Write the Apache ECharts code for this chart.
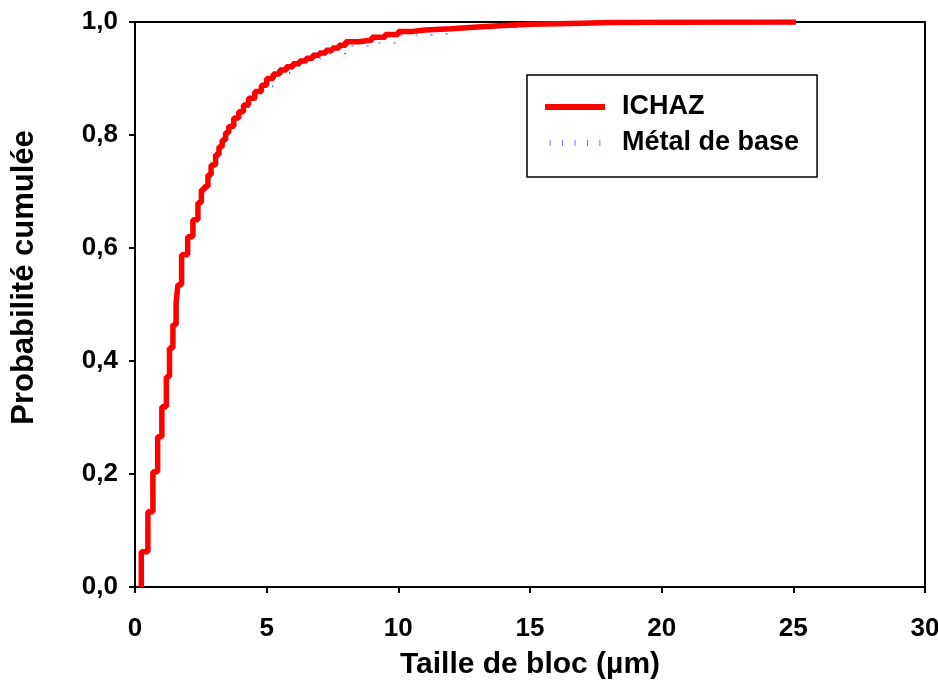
<!DOCTYPE html>
<html><head><meta charset="utf-8">
<script src="https://cdn.jsdelivr.net/npm/echarts@6/dist/echarts.min.js"></script>
<style>html,body{margin:0;padding:0;background:#fff}#c{width:938px;height:684px}</style>
</head><body><div id="c"></div>
<script>
// ICHAZ step curve: [taille (µm), probabilité cumulée] at each riser
var ichazX = [0.24,0.24,0.49,0.68,0.86,1.02,1.19,1.31,1.44,1.56,1.63,1.77,2.0,2.2,2.39,2.52,2.64,2.77,2.89,3.06,3.19,3.31,3.44,3.56,3.75,3.94,4.12,4.31,4.55,4.8,5.0,5.25,5.5,5.75,6.0,6.25,6.5,6.75,7.0,7.25,7.5,7.75,8.0,8.5,9.0,9.5,10.0,10.5,11.0,12.0,13.0,14.0,15.0,16.0,17.0,18.0,20.0,25.1];
var ichazY = [0.0,0.0625,0.133,0.204,0.266,0.319,0.372,0.423,0.464,0.503,0.535,0.588,0.62,0.65,0.68,0.703,0.709,0.729,0.747,0.765,0.779,0.791,0.804,0.815,0.830,0.841,0.853,0.865,0.877,0.888,0.900,0.908,0.915,0.921,0.926,0.931,0.936,0.941,0.945,0.950,0.954,0.959,0.965,0.968,0.973,0.978,0.983,0.986,0.988,0.991,0.994,0.996,0.997,0.998,0.999,0.9995,1.0,1.0];
// Métal de base
var baseX = [0.22,0.22,0.47,0.66,0.85,1.01,1.18,1.30,1.43,1.55,1.62,1.76,1.99,2.19,2.38,2.51,2.63,2.76,2.88,3.07,3.20,3.33,3.46,3.58,3.78,3.97,4.16,4.35,4.60,4.85,5.23,5.87,6.50,7.14,8.04,9.05,10.13,11.2,12.27,13.35,14.5,15.58,17.5,20.0,24.6];
var baseY = [0.0,0.06,0.13,0.20,0.262,0.315,0.368,0.419,0.46,0.499,0.531,0.584,0.616,0.646,0.676,0.699,0.705,0.725,0.743,0.761,0.775,0.787,0.800,0.811,0.826,0.837,0.849,0.861,0.873,0.884,0.908,0.925,0.935,0.944,0.9575,0.9628,0.977,0.980,0.987,0.9906,0.9947,0.9976,0.999,1.0,1.0];
var xTicks = [0,5,10,15,20,25,30];
var yTicks = ['0,0','0,2','0,4','0,6','0,8','1,0'];
var seriesNames = ['ICHAZ','Métal de base'];

function pairs(xs, ys){ return xs.map(function(x,i){ return [x, ys[i]]; }); }
var FONT = '"Liberation Sans", Arial, sans-serif';
var chart = echarts.init(document.getElementById('c'), null, {renderer:'canvas'});
chart.setOption({
  animation:false,
  backgroundColor:'#fff',
  grid:{left:135,right:13,top:22,bottom:97,show:true,borderColor:'#000',borderWidth:2,backgroundColor:'transparent',outerBoundsMode:'none',containLabel:false},
  legend:{
    orient:'vertical', left:527, top:75,
    data:[
      {name:seriesNames[0], icon:'rect', itemStyle:{color:'#ff0000'}},
      {name:seriesNames[1], icon:'path://M0,0h1v7h-1zM14.5,0h1v7h-1zM29,0h1v7h-1zM43.5,0h1v7h-1zM58,0h1v7h-1z', itemStyle:{color:'#5a5aff'}}
    ],
    itemWidth:60, itemHeight:6, itemGap:6,
    padding:[17,18,19,18],
    borderColor:'#000', borderWidth:1.5,
    textStyle:{fontFamily:FONT, fontWeight:'bold', fontSize:27, color:'#000', padding:[0,0,0,12], lineHeight:30}
  },
  xAxis:{
    type:'value', min:xTicks[0], max:xTicks[xTicks.length-1], interval:5,
    name:'Taille de bloc (µm)', nameLocation:'middle', nameGap:63,
    nameTextStyle:{fontFamily:FONT, fontWeight:'bold', fontSize:30, color:'#000'},
    axisLine:{lineStyle:{color:'#000',width:2}},
    axisTick:{inside:false,length:6,lineStyle:{color:'#000',width:2}},
    axisLabel:{fontFamily:FONT, fontWeight:'bold', fontSize:26, color:'#000', margin:29},
    splitLine:{show:false}
  },
  yAxis:{
    type:'value', min:0, max:1, interval:0.2,
    name:'Probabilité cumulée', nameLocation:'middle', nameGap:95,
    nameTextStyle:{fontFamily:FONT, fontWeight:'bold', fontSize:31, color:'#000', padding:[0,0,0,54]},
    axisLine:{lineStyle:{color:'#000',width:2}},
    axisTick:{inside:false,length:6,lineStyle:{color:'#000',width:2}},
    axisLabel:{fontFamily:FONT, fontWeight:'bold', fontSize:26, color:'#000', margin:17,
      formatter:function(v){ return yTicks[Math.round(v/0.2)]; }},
    splitLine:{show:false}
  },
  series:[
    {name:seriesNames[1], type:'line', step:'end', data:pairs(baseX, baseY), showSymbol:false, symbol:'none', z:2,
      lineStyle:{color:'#3030ff', width:1.2, type:[2,13], opacity:0.8}, itemStyle:{color:'#3030ff'}},
    {name:seriesNames[0], type:'line', step:'end', data:pairs(ichazX, ichazY), showSymbol:false, symbol:'none', z:3,
      lineStyle:{color:'#ff0000', width:5.5}, itemStyle:{color:'#ff0000'}}
  ]
});
</script></body></html>
